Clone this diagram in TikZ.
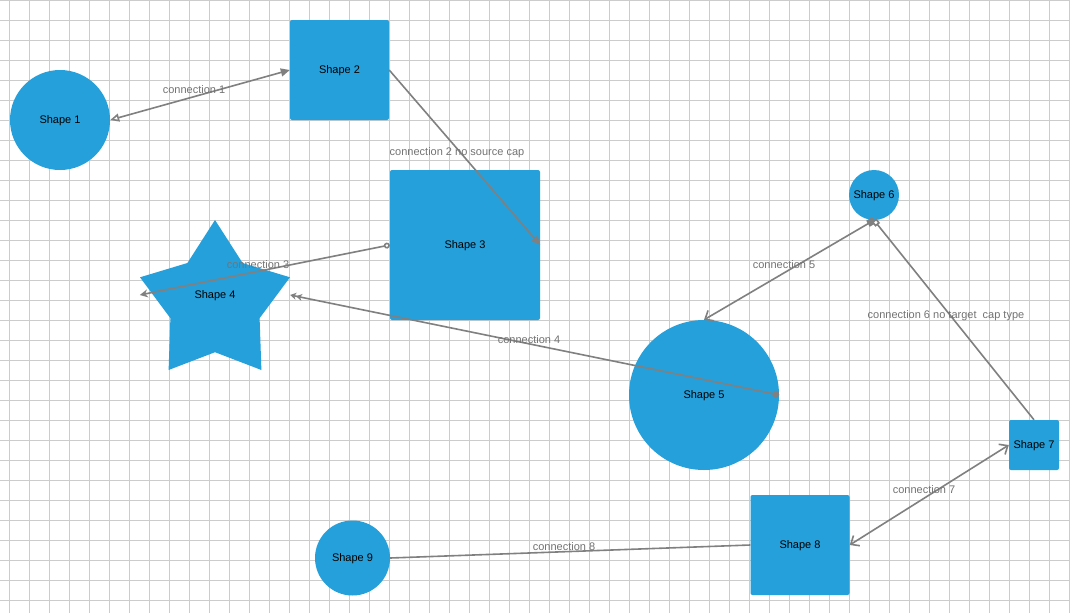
\documentclass[tikz,border=0pt]{standalone}
\usepackage{fontspec}
\setmainfont{Liberation Sans}
\usetikzlibrary{arrows.meta}
\definecolor{shapeblue}{RGB}{38,160,218}
\definecolor{conngray}{RGB}{128,128,128}
\definecolor{labelgray}{RGB}{115,115,115}
\definecolor{gridgray}{RGB}{204,204,204}
\begin{document}
\begin{tikzpicture}[x=1pt,y=-1pt,
  gridline/.style={draw=gridgray,line width=0.9pt},
  shapetext/.style={font=\fontsize{11}{13}\selectfont,text depth=0pt,text height=7pt},
  boxshape/.style={rectangle,fill=shapeblue,rounded corners=2pt,inner sep=0pt,shapetext},
  roundshape/.style={circle,fill=shapeblue,inner sep=0pt,shapetext},
  conn/.style={draw=conngray,line width=1.6pt},
  connlabel/.style={text=labelgray,font=\fontsize{11}{13}\selectfont,inner sep=0pt,text depth=0pt,text height=7pt}
]
\useasboundingbox (0,0) rectangle (1070,613);
\fill[white] (0,0) rectangle (1070,613);
\foreach \x in {9,29,...,1069} \draw[gridline] (\x,0) -- (\x,613);
\foreach \y in {0,20,...,600} \draw[gridline] (0,\y) -- (1070,\y);

% shapes
\node[roundshape,minimum size=100pt] (s1) at (60,120) {Shape 1};
\node[boxshape,minimum width=99pt,minimum height=100pt] (s2) at (339.5,70) {Shape 2};
\node[boxshape,minimum width=150pt,minimum height=150pt] (s3) at (465,245) {Shape 3};
\fill[shapeblue] (215,220) -- (242.6,263) -- (290,277.3) -- (259.6,318.2)
  -- (261.4,370) -- (215,352.2) -- (168.6,370) -- (170.4,318.2)
  -- (140,277.3) -- (187.4,263) -- cycle;
\node[rectangle,inner sep=0pt,minimum width=150pt,minimum height=150pt,shapetext] (s4) at (215,295) {Shape 4};
\node[roundshape,minimum size=150pt] (s5) at (704,395) {Shape 5};
\node[roundshape,minimum size=50pt] (s6) at (874,195) {Shape 6};
\node[boxshape,minimum width=50pt,minimum height=50pt] (s7) at (1034,445) {Shape 7};
\node[boxshape,minimum width=99pt,minimum height=100pt] (s8) at (800,545) {Shape 8};
\node[roundshape,minimum size=75pt] (s9) at (352.5,558) {Shape 9};

% connections
\draw[conn,{Triangle[open,length=9pt,width=8pt,fill=white]}-{Triangle[length=9pt,width=8pt]}] (s1.east) -- (s2.west);
\draw[conn,-{Triangle[length=9pt,width=8pt]}] (s2.east) -- (s3.east);
\draw[conn,{Circle[open,length=6pt,fill=white]}-{Stealth[length=8pt,width=8pt]}] (s3.west) -- (s4.west);
\draw[conn,{Circle[length=7pt]}-{Stealth[length=6pt,width=7pt]Stealth[length=6pt,width=7pt]}] (s5.east) -- (s4.east);
\draw[conn,{Square[length=7pt]}-{Straight Barb[length=7pt,width=12pt]}] (s6.south) -- (s5.north);
\draw[conn,-{Square[open,length=6pt,fill=white]}] (s7.north) -- (s6.south);
\draw[conn,{Straight Barb[length=7pt,width=12pt]}-{Straight Barb[length=7pt,width=12pt]}] (s8.east) -- (s7.west);
\draw[conn] (s9.east) -- (s8.west);

% labels
\node[connlabel] (l1) at (194,90) {connection 1};
\node[connlabel] (l2) at (457,152) {connection 2 no source cap};
\node[connlabel] (l3) at (258,265) {connection 3};
\node[connlabel] (l4) at (529,340) {connection 4};
\node[connlabel] (l5) at (784,265) {connection 5};
\node[connlabel] (l6) at (946,315) {connection 6 no target\ \ cap type};
\node[connlabel] (l7) at (924,490) {connection 7};
\node[connlabel] (l8) at (564,547) {connection 8};
\end{tikzpicture}
\end{document}
